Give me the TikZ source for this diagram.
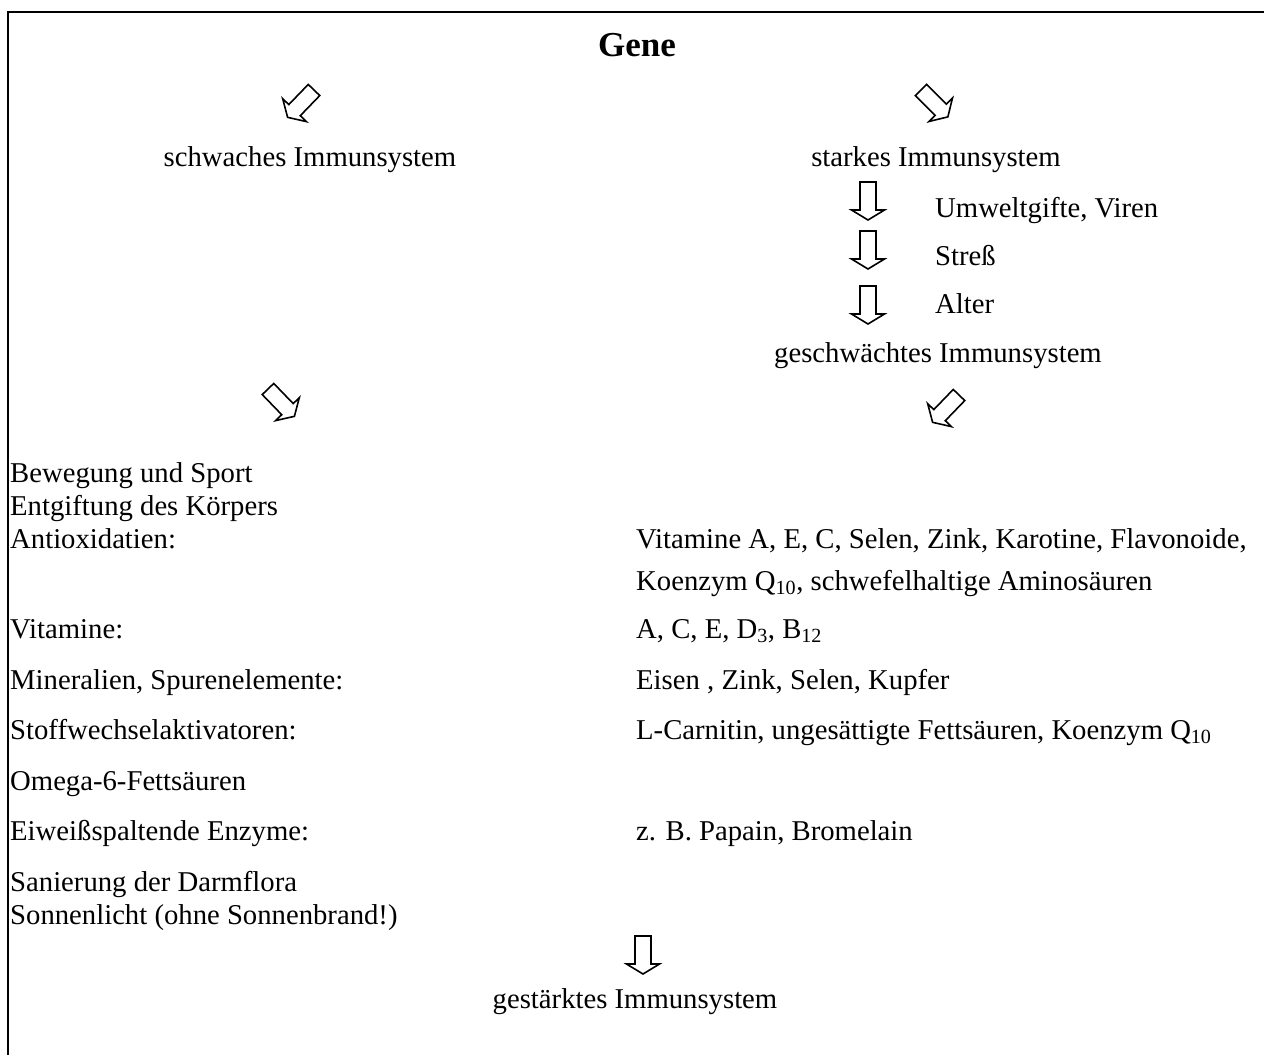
\documentclass[tikz,border=0pt]{standalone}
\usepackage{fontspec}
\setmainfont{Liberation Serif}
\begin{document}
\begin{tikzpicture}[x=1pt,y=-1pt,
  txt/.style={inner sep=0pt,font=\fontsize{28.7}{33}\selectfont},
  lt/.style={txt,anchor=base west},
  ct/.style={txt,anchor=base},
  blockarrow/.style={draw=black,line width=1.6pt,line join=miter,fill=white}]
\useasboundingbox (0,0) rectangle (1264,1055);
\newcommand{\barrow}[3]{%
  \draw[blockarrow,shift={(#1,#2)},rotate=#3]
    (0,-8) -- (28,-8) -- (28,-16.5) -- (38,0) -- (28,16.5) -- (28,8) -- (0,8) -- cycle;}
% frame
\draw[line width=2pt] (8,1060) -- (8,12) -- (1270,12);
% title
\node[inner sep=0pt,anchor=base,font=\fontsize{35}{40}\selectfont\bfseries] (gene) at (637,56) {Gene};
% diagonal arrows from Gene
\barrow{314}{90}{-134}
\barrow{921}{90}{-45}
\node[ct] (schwach) at (310,166) {schwaches Immunsystem};
\node[ct] (stark) at (936,166) {starkes Immunsystem};
% down arrows
\barrow{868}{182}{-90}
\barrow{868}{231}{-90}
\barrow{868}{286}{-90}
\node[lt] (umwelt) at (935,217) {Umweltgifte, Viren};
\node[lt] (stress) at (935,265) {Streß};
\node[lt] (alter) at (935,313) {Alter};
\node[ct] (geschw) at (938,362) {geschwächtes Immunsystem};
\barrow{268}{389}{-46}
\barrow{959}{395}{-134}
% left column
\node[lt] (beweg) at (10,482) {Bewegung und Sport};
\node[lt] (entgift) at (10,515) {Entgiftung des Körpers};
\node[lt] (antiox) at (10,548) {Antioxidatien:};
\node[lt] (vit) at (10,638) {Vitamine:};
\node[lt] (miner) at (10,689) {Mineralien, Spurenelemente:};
\node[lt] (stoff) at (10,739) {Stoffwechselaktivatoren:};
\node[lt] (omega) at (10,790) {Omega-6-Fettsäuren};
\node[lt] (eiweiss) at (10,840) {Eiweißspaltende Enzyme:};
\node[lt] (darm) at (10,891) {Sanierung der Darmflora};
\node[lt] (sonne) at (10,924) {Sonnenlicht (ohne Sonnenbrand!)};
% right column
\node[lt] (antioxR) at (636,548) {Vitamine A, E, C, Selen, Zink, Karotine, Flavonoide,};
\node[lt] (antioxR2) at (636,590) {Koenzym Q\textsubscript{10}, schwefelhaltige Aminosäuren};
\node[lt] (vitR) at (636,638) {A, C, E, D\textsubscript{3}, B\textsubscript{12}};
\node[lt] (minerR) at (636,689) {Eisen , Zink, Selen, Kupfer};
\node[lt] (stoffR) at (636,739) {L-Carnitin, ungesättigte Fettsäuren, Koenzym Q\textsubscript{10}};
\node[lt] (eiweissR) at (636,840) {z. B. Papain, Bromelain};
% bottom
\barrow{643}{936}{-90}
\node[ct] (gestaerkt) at (635,1008) {gestärktes Immunsystem};
\end{tikzpicture}
\end{document}
